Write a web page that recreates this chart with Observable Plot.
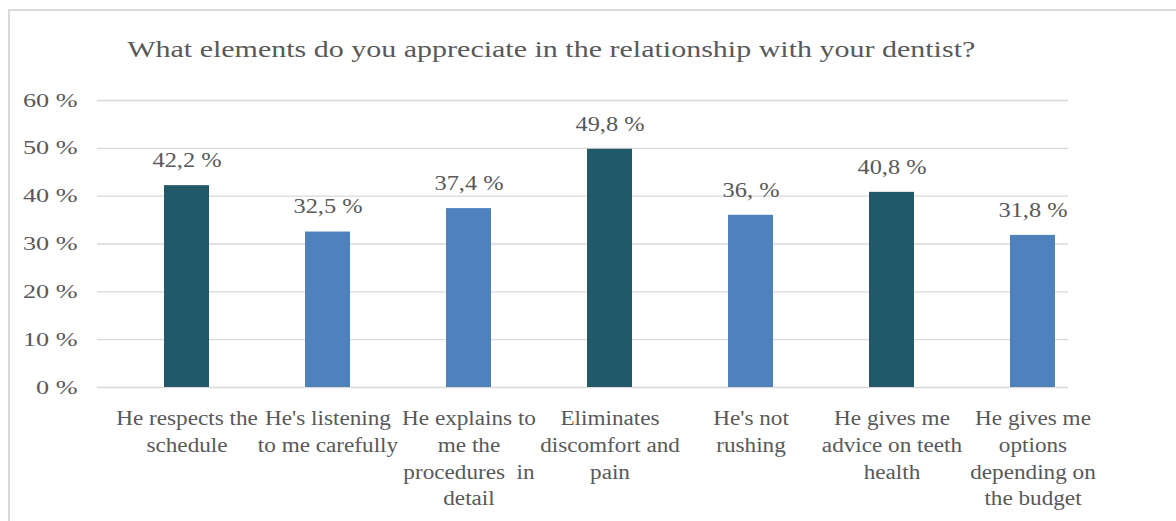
<!DOCTYPE html>
<html><head><meta charset="utf-8">
<script src="https://cdn.jsdelivr.net/npm/d3@7"></script>
<script src="https://cdn.jsdelivr.net/npm/@observablehq/plot@0.6"></script>
<style>
html,body{margin:0;padding:0;background:#fff;overflow:hidden;width:1176px;height:521px;}
#frame{position:absolute;left:8px;top:9px;width:1300px;height:600px;border:2px solid #d9d9d9;box-sizing:border-box;}
#chart{position:absolute;left:0;top:0;}
#title{position:absolute;left:0;top:37px;width:1103px;text-align:center;font-family:"Liberation Serif","Times New Roman",serif;font-size:24px;line-height:24px;color:#595959;white-space:nowrap;}
#title span{display:inline-block;transform:scaleX(1.25);transform-origin:center;}
</style></head><body>
<div id="frame"></div>
<div id="chart"></div>
<div id="title"><span>What elements do you appreciate in the relationship with your dentist?</span></div>
<script>
const categories = [
  "He respects the schedule",
  "He's listening to me carefully",
  "He explains to me the procedures in detail",
  "Eliminates discomfort and pain",
  "He's not rushing",
  "He gives me advice on teeth health",
  "He gives me options depending on the budget"
];
const tickLabels = [
  "He respects the\nschedule",
  "He's listening\nto me carefully",
  "He explains to\nme the\nprocedures  in\ndetail",
  "Eliminates\ndiscomfort and\npain",
  "He's not\nrushing",
  "He gives me\nadvice on teeth\nhealth",
  "He gives me\noptions\ndepending on\nthe budget"
];
const values = [42.2, 32.5, 37.4, 49.8, 36.0, 40.8, 31.8];
const valueLabels = ["42,2 %", "32,5 %", "37,4 %", "49,8 %", "36, %", "40,8 %", "31,8 %"];
const groups = ["dark", "light", "light", "dark", "light", "dark", "light"];
const yTicks = [0, 10, 20, 30, 40, 50, 60];
const yTickLabels = ["0 %", "10 %", "20 %", "30 %", "40 %", "50 %", "60 %"];

const data = categories.map((c, i) => ({category: c, value: values[i], label: valueLabels[i], group: groups[i]}));

const chart = Plot.plot({
  width: 1176, height: 521,
  marginTop: 100, marginBottom: 134, marginLeft: 97, marginRight: 108,
  style: {fontFamily: '"Liberation Serif", "Times New Roman", serif', color: "#595959", background: "transparent", overflow: "visible"},
  x: {domain: categories, range: [115, 1104], paddingInner: 0.68, paddingOuter: 0.34, label: null},
  y: {domain: [0, 60], label: null},
  color: {domain: ["dark", "light"], range: ["#215968", "#4f81bd"]},
  marks: [
    Plot.gridY(yTicks, {stroke: "#d9d9d9", strokeOpacity: 1, strokeWidth: 1.3}),
    Plot.axisY(yTicks, {tickSize: 0, tickPadding: 20, tickFormat: d => yTickLabels[yTicks.indexOf(d)], fontSize: 19, label: null}),
    Plot.barY(data, {x: "category", y: "value", fill: "group"}),
    Plot.text(data, {x: "category", y: "value", text: "label", dy: -25, fontSize: 20, fill: "#595959"}),
    Plot.axisX({tickSize: 0, tickPadding: 19, tickFormat: d => tickLabels[categories.indexOf(d)], fontSize: 20, lineHeight: 1.33, label: null})
  ]
});
document.getElementById("chart").appendChild(chart);

// widen glyphs horizontally (reference rendering is stretched)
const stretch = {"y-axis tick label": 1.38, "x-axis tick label": 1.16, "text": 1.22};
chart.querySelectorAll("g[aria-label]").forEach(g => {
  const s = stretch[g.getAttribute("aria-label")];
  if (!s) return;
  g.querySelectorAll("text").forEach(t => {
    const tr = t.getAttribute("transform");
    if (tr !== null) t.setAttribute("transform", tr + ` scale(${s},1)`);
  });
});
</script>
</body></html>
